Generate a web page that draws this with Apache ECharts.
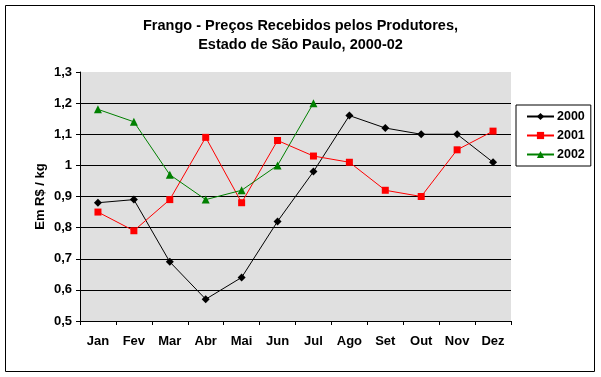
<!DOCTYPE html>
<html><head><meta charset="utf-8">
<script src="https://cdn.jsdelivr.net/npm/echarts@6/dist/echarts.min.js"></script>
<style>html,body{margin:0;padding:0;background:#fff}#c{width:601px;height:377px}</style>
</head><body><div id="c"></div>
<script>
const months = ['Jan','Fev','Mar','Abr','Mai','Jun','Jul','Ago','Set','Out','Nov','Dez'];
const s2000 = [0.88,0.89,0.69,0.57,0.64,0.82,0.98,1.16,1.12,1.10,1.10,1.01];
const s2001 = [0.85,0.79,0.89,1.09,0.88,1.08,1.03,1.01,0.92,0.90,1.05,1.11];
const s2002 = [1.18,1.14,0.97,0.89,0.92,1.00,1.20];
const titleText = 'Frango - Preços Recebidos pelos Produtores,\nEstado de São Paulo, 2000-02';
const yName = 'Em R$ / kg';

const F = 'Liberation Sans, Arial, sans-serif';
const chart = echarts.init(document.getElementById('c'), null, {renderer:'canvas'});
chart.setOption({
  animation:false,
  backgroundColor:'#fff',
  textStyle:{fontFamily:F},
  graphic:[{type:'rect',shape:{x:5.5,y:5.5,width:589,height:366},style:{fill:'none',stroke:'#000',lineWidth:1},z:-1}],
  title:{text:titleText,left:'center',top:12,textStyle:{fontFamily:F,fontSize:14.5,fontWeight:'bold',color:'#000',lineHeight:18.5}},
  legend:{
    orient:'vertical',left:516,top:105,width:70,
    padding:[5,6,5,10],itemGap:6,itemWidth:27,itemHeight:9,
    borderColor:'#000',borderWidth:1,
    textStyle:{fontFamily:F,fontSize:12.5,fontWeight:'bold',color:'#000',padding:[0,0,0,-2]},
    data:['2000','2001','2002']
  },
  grid:{left:80,right:90,top:72,bottom:56,show:true,backgroundColor:'#e0e0e0',borderWidth:0},
  xAxis:{
    type:'category',data:months,boundaryGap:true,
    axisLine:{lineStyle:{color:'#000',width:1}},
    axisTick:{show:true,length:4,lineStyle:{color:'#000'},alignWithLabel:false},
    axisLabel:{color:'#000',fontFamily:F,fontSize:13,fontWeight:'bold',margin:14,interval:0},
    splitLine:{show:false}
  },
  yAxis:{
    type:'value',min:0.5,max:1.3,interval:0.1,
    name:yName,nameLocation:'middle',nameRotate:90,nameGap:33,nameMoveOverlap:false,
    nameTextStyle:{fontFamily:F,fontSize:13,fontWeight:'bold',color:'#000'},
    axisLine:{show:true,lineStyle:{color:'#000',width:1}},
    axisTick:{show:true,length:4,lineStyle:{color:'#000'}},
    axisLabel:{color:'#000',fontFamily:F,fontSize:13,fontWeight:'bold',margin:8,
      formatter:v=>String(Math.round(v*10)/10).replace('.',',')},
    splitLine:{show:true,showMinLine:false,showMaxLine:false,lineStyle:{color:'#000',width:1}}
  },
  series:[
    {name:'2000',type:'line',data:s2000,color:'#000',symbol:'diamond',symbolSize:8,lineStyle:{width:1,color:'#000'},itemStyle:{color:'#000'}},
    {name:'2001',type:'line',data:s2001,color:'#ff0000',symbol:'rect',symbolSize:7,lineStyle:{width:1,color:'#ff0000'},itemStyle:{color:'#ff0000'}},
    {name:'2002',type:'line',data:s2002,color:'#008000',symbol:'triangle',symbolSize:8,lineStyle:{width:1,color:'#008000'},itemStyle:{color:'#008000'}}
  ]
});
</script></body></html>
